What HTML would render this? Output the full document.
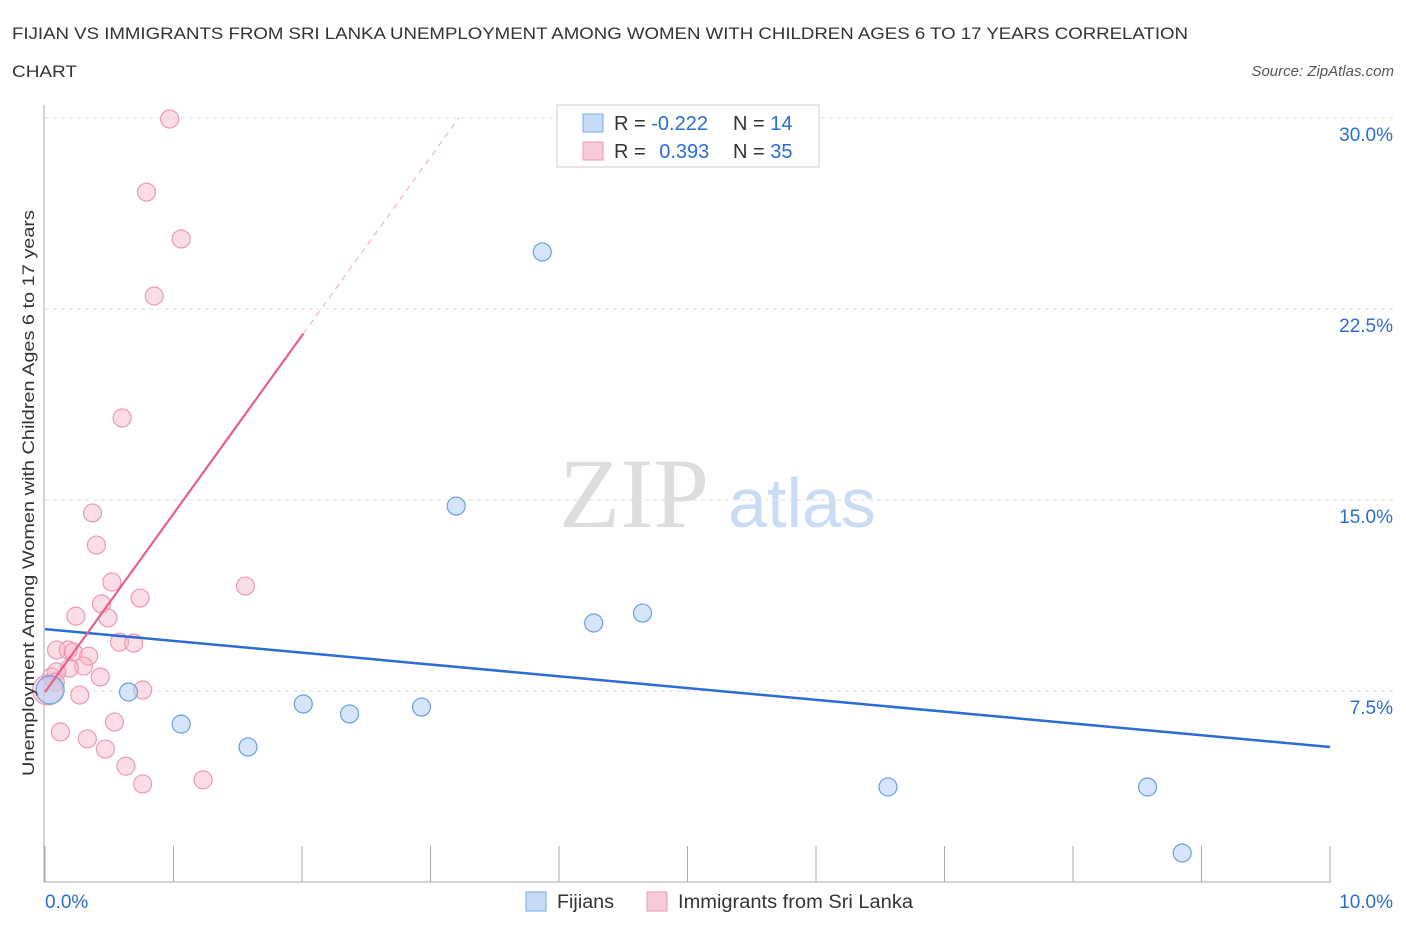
<!DOCTYPE html>
<html><head><meta charset="utf-8"><style>
body{margin:0;background:#fff;font-family:"Liberation Sans",sans-serif;}
</style></head><body>
<svg id="chart" width="1406" height="930" font-family="Liberation Sans, sans-serif">
<text x="12" y="39" font-size="17" fill="#333" textLength="1176" lengthAdjust="spacingAndGlyphs">FIJIAN VS IMMIGRANTS FROM SRI LANKA UNEMPLOYMENT AMONG WOMEN WITH CHILDREN AGES 6 TO 17 YEARS CORRELATION</text>
<text x="12" y="77" font-size="17" fill="#333" textLength="65" lengthAdjust="spacingAndGlyphs">CHART</text>
<text x="1394" y="76" font-size="15" fill="#555" font-style="italic" text-anchor="end">Source: ZipAtlas.com</text>
<text x="634" y="527" font-size="100" fill="#ddd" style="font-family:'Liberation Serif',serif" text-anchor="middle">ZIP</text>
<text x="802" y="527" font-size="70" fill="#c9dcf3" text-anchor="middle">atlas</text>
<g id="grid"></g><g id="marks"></g>
<text transform="translate(34,493) rotate(-90)" font-size="17" fill="#333" text-anchor="middle" textLength="566" lengthAdjust="spacingAndGlyphs">Unemployment Among Women with Children Ages 6 to 17 years</text>
<g>
<rect x="557" y="105" width="262" height="62" fill="#fff" stroke="#ccc"/>
<rect x="583" y="114" width="20" height="18" fill="#c5dbf7" stroke="#7aa8e8"/>
<rect x="583" y="142" width="20" height="18" fill="#f8c9d6" stroke="#eb9ab1"/>
<text x="614" y="130" font-size="20" fill="#333">R = <tspan fill="#2a6dd4">-0.222</tspan></text>
<text x="733" y="130" font-size="20" fill="#333">N = <tspan fill="#2a6dd4">14</tspan></text>
<text x="614" y="158" font-size="20" fill="#333">R = <tspan fill="#2a6dd4" dx="8">0.393</tspan></text>
<text x="733" y="158" font-size="20" fill="#333">N = <tspan fill="#2a6dd4">35</tspan></text>
</g>
<g>
<rect x="526" y="892" width="20" height="19" fill="#c5dbf7" stroke="#7aa8e8"/>
<text x="557" y="908" font-size="19" fill="#333" textLength="57" lengthAdjust="spacingAndGlyphs">Fijians</text>
<rect x="647" y="892" width="20" height="19" fill="#f8c9d6" stroke="#eb9ab1"/>
<text x="678" y="908" font-size="19" fill="#333" textLength="235" lengthAdjust="spacingAndGlyphs">Immigrants from Sri Lanka</text>
</g>
</svg>
<script>
const xTicks=[0,1,2,3,4,5,6,7,8,9,10];
const yTicks=[7.5,15,22.5,30];
const yTickLabels=["7.5%","15.0%","22.5%","30.0%"];
const fijiX=[0.04,0.65,1.06,1.58,2.01,2.37,2.93,3.20,3.87,4.27,4.65,6.56,8.58,8.85];
const fijiY=[7.54,7.46,6.20,5.30,6.99,6.60,6.87,14.76,24.74,10.17,10.56,3.73,3.73,1.14];
const slX=[0.97,0.79,1.06,0.85,0.60,0.37,0.40,0.52,0.74,0.44,0.24,0.49,0.58,0.69,0.09,0.18,0.22,0.34,0.30,0.19,0.43,0.05,0.09,0.08,0.27,0.02,0.76,1.56,0.54,0.12,0.33,0.47,0.63,0.76,1.23];
const slY=[29.96,27.09,25.25,23.01,18.22,14.49,13.23,11.78,11.15,10.92,10.44,10.37,9.42,9.38,9.11,9.11,9.03,8.87,8.48,8.40,8.05,8.05,8.25,7.85,7.34,7.54,7.54,11.62,6.28,5.89,5.62,5.22,4.55,3.85,4.01];
const fijiTrend=[9.93,5.30];
const slTrend=[7.46,7.0];
const NS='http://www.w3.org/2000/svg';
const X=v=>45+v*128.5, Y=v=>882-v*25.467;
const grid=document.getElementById('grid'),marks=document.getElementById('marks');
function mk(p,t,a){const e=document.createElementNS(NS,t);for(const k in a)e.setAttribute(k,a[k]);p.appendChild(e);return e;}
yTicks.forEach((t,i)=>{
 const l=mk(grid,'line',{x1:45,x2:1395,y1:Y(t),y2:Y(t),stroke:'#ddd','stroke-dasharray':'4,4'});
 
 
 const tx=mk(grid,'text',{x:1393,y:Y(t)+23,'font-size':19,fill:'#2a6dd4','text-anchor':'end'});
 tx.textContent=yTickLabels[i];
 
 
});
const ax=mk(grid,'line',{x1:44,x2:44,y1:105,y2:882,stroke:'#aaa'});


const bx=mk(grid,'line',{x1:44,x2:1331,y1:882,y2:882,stroke:'#aaa'});


xTicks.forEach(t=>{const l=mk(grid,'line',{x1:X(t),x2:X(t),y1:846,y2:882,stroke:'#aaa'});
 
 });
[[0,'0.0%',45,'start'],[10,'10.0%',1393,'end']].forEach(a=>{const t=mk(grid,'text',{x:a[2],y:908,'font-size':19,fill:'#2a6dd4','text-anchor':a[3]});t.textContent=a[1];
 
 });
slX.forEach((x,i)=>{const c=mk(marks,'circle',{cx:X(x),cy:Y(slY[i]),r:(i==25?15:9),fill:'rgba(246,180,200,0.45)',stroke:'#eb9ab1','stroke-width':1.2});
 
 });
fijiX.forEach((x,i)=>{const c=mk(marks,'circle',{cx:X(x),cy:Y(fijiY[i]),r:(i==0?14:9),fill:'rgba(180,208,245,0.55)',stroke:'#6a9fe3','stroke-width':1.2});
 
 });
const fl=mk(marks,'line',{x1:X(0),y1:Y(fijiTrend[0]),x2:X(10),y2:Y(fijiTrend[1]),stroke:'#2a6dd4','stroke-width':2.5});


const xEnd=(30-slTrend[0])/slTrend[1];
const sl=mk(marks,'line',{x1:X(0),y1:Y(slTrend[0]),x2:X(2.01),y2:Y(slTrend[0]+slTrend[1]*2.01),stroke:'#e8608a','stroke-width':2.2});


const sd=mk(marks,'line',{x1:X(2.01),y1:Y(slTrend[0]+slTrend[1]*2.01),x2:X(xEnd),y2:Y(30),stroke:'#eeaabb','stroke-width':1,'stroke-dasharray':'6,5'});


</script>
</body></html>
